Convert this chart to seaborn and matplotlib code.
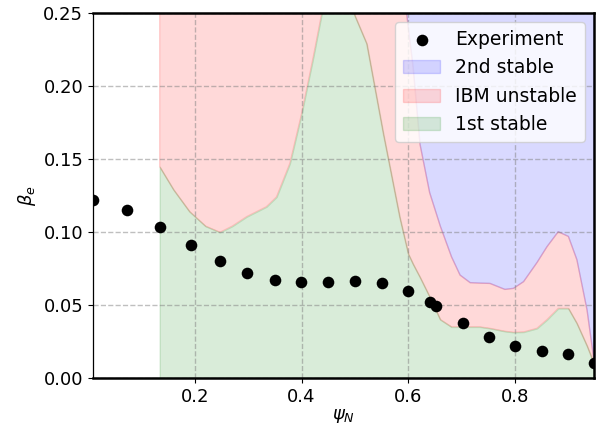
import matplotlib
matplotlib.use("Agg")
import matplotlib.pyplot as plt
import seaborn as sns
import numpy as np

# Measured electron beta profile
psi_exp = [0.009, 0.0725, 0.134, 0.1925, 0.247, 0.2975, 0.35, 0.399, 0.45, 0.50,
           0.55, 0.60, 0.641, 0.652, 0.702, 0.751, 0.80, 0.85, 0.899, 0.948]
beta_exp = [0.1219, 0.115, 0.1034, 0.091, 0.080, 0.0719, 0.067, 0.0658, 0.0658, 0.0664,
            0.065, 0.0596, 0.0523, 0.0495, 0.0374, 0.028, 0.0221, 0.0187, 0.0162, 0.010]

# Ballooning stability boundaries
psi_b = [0.134, 0.16, 0.19, 0.22, 0.247, 0.27, 0.297, 0.334, 0.353, 0.378,
         0.40, 0.422, 0.44, 0.46, 0.48, 0.50, 0.522, 0.553, 0.584, 0.60,
         0.609, 0.622, 0.64, 0.66, 0.681, 0.697, 0.716, 0.734, 0.753, 0.781,
         0.797, 0.816, 0.841, 0.86, 0.881, 0.90, 0.916, 0.935, 0.948]
beta_first = [0.1447, 0.129, 0.114, 0.104, 0.0998, 0.104, 0.1105, 0.1173, 0.124, 0.147,
              0.181, 0.22, 0.254, 0.275, 0.272, 0.248, 0.229, 0.1676, 0.11, 0.085,
              0.078, 0.069, 0.0557, 0.040, 0.035, 0.035, 0.035, 0.035, 0.034, 0.032,
              0.0313, 0.0315, 0.034, 0.040, 0.0477, 0.0477, 0.0374, 0.022, 0.010]
beta_second = [0.35, 0.35, 0.35, 0.35, 0.35, 0.35, 0.35, 0.35, 0.35, 0.35,
               0.35, 0.35, 0.35, 0.35, 0.35, 0.35, 0.35, 0.35, 0.29, 0.24,
               0.213, 0.16, 0.127, 0.104, 0.083, 0.0705, 0.0653, 0.065, 0.0648, 0.0607,
               0.0614, 0.066, 0.079, 0.090, 0.1002, 0.097, 0.081, 0.0466, 0.012]
beta_ceiling = 0.35

fig = plt.figure(figsize=(5.98, 4.34), dpi=100)
ax = fig.add_axes([0.1555, 0.129, 0.8378, 0.841])

sns.scatterplot(x=psi_exp, y=beta_exp, ax=ax, color="black", s=70,
                edgecolor="black", linewidth=0, label="Experiment", zorder=3)
ax.fill_between(psi_b, beta_second, beta_ceiling, color="blue", alpha=0.15,
                label="2nd stable")
ax.fill_between(psi_b, beta_first, beta_second, color="red", alpha=0.15,
                label="IBM unstable")
ax.fill_between(psi_b, 0, beta_first, color="green", alpha=0.15,
                label="1st stable")

ax.set_xlim(min(psi_exp), max(psi_exp))
ax.set_ylim(0, 0.25)
ax.set_xticks([0.2, 0.4, 0.6, 0.8])
ax.set_yticks([0.0, 0.05, 0.10, 0.15, 0.20, 0.25])
ax.set_yticklabels(["0.00", "0.05", "0.10", "0.15", "0.20", "0.25"])
ax.tick_params(labelsize=13)
ax.set_xlabel(r"$\psi_N$", fontsize=13, labelpad=1)
ax.set_ylabel(r"$\beta_e$", fontsize=13)
ax.grid(True, linestyle="--", color="gray", alpha=0.5, linewidth=1)

for side in ["top", "bottom", "right"]:
    ax.spines[side].set_linewidth(1.8)
ax.spines["left"].set_linewidth(0.9)

ax.legend(loc="upper right", fontsize=13.5)

fig.savefig("out.png", dpi=100)
